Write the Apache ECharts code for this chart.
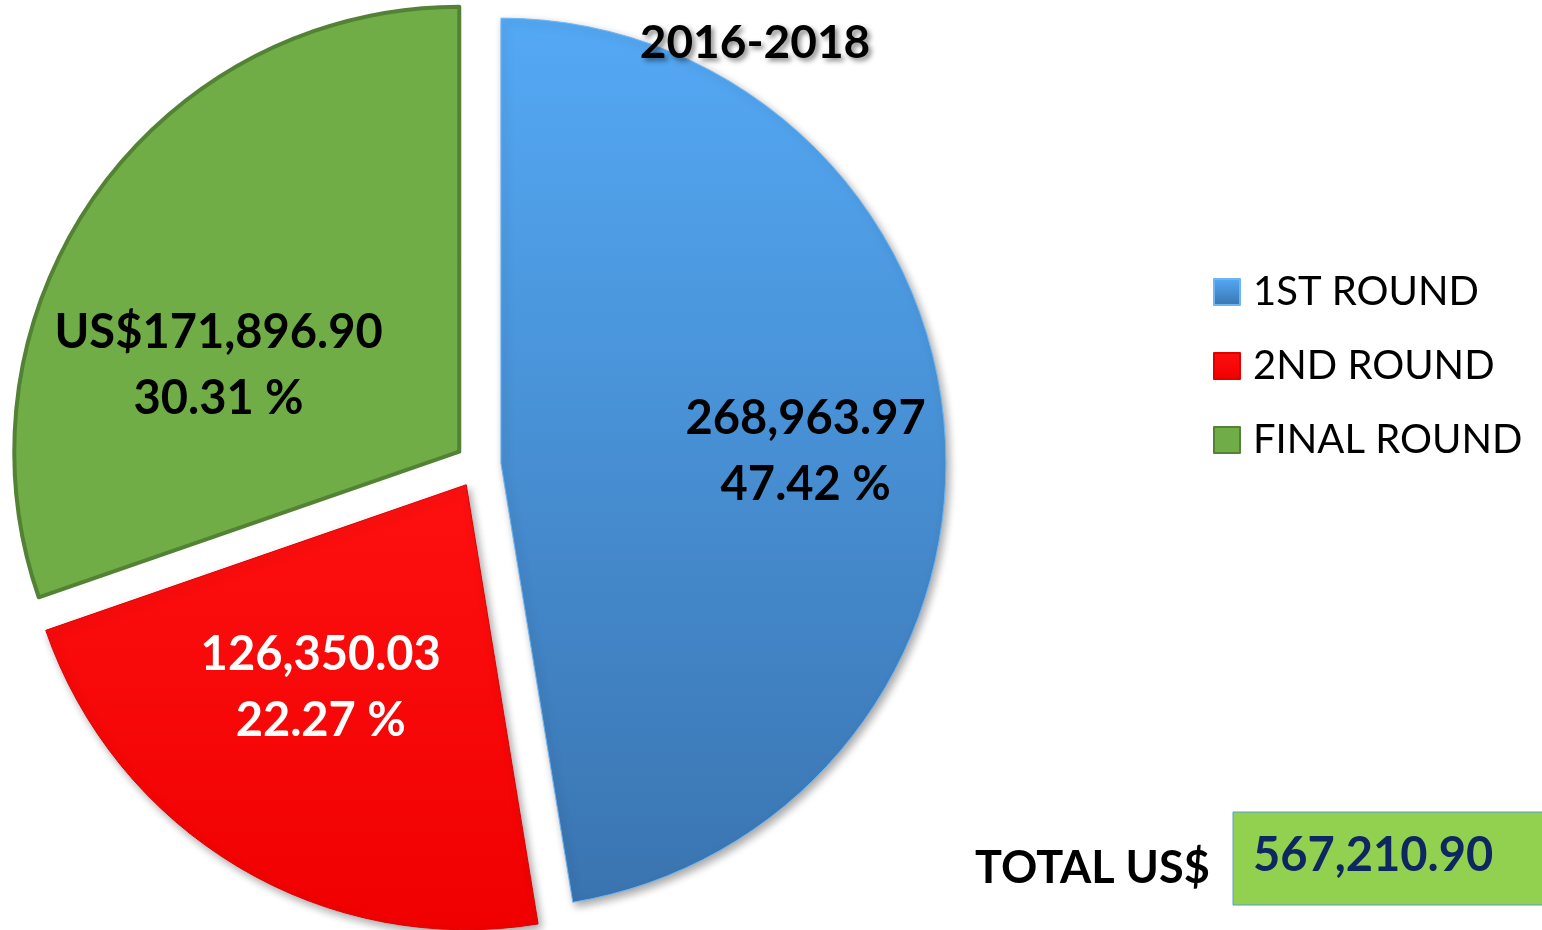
<!DOCTYPE html>
<html>
<head>
<meta charset="utf-8">
<script src="https://cdn.jsdelivr.net/npm/echarts@6/dist/echarts.min.js"></script>
<style>
  html, body { margin: 0; padding: 0; background: #fff; }
  #main { width: 1542px; height: 930px; }
</style>
</head>
<body>
<div id="main"></div>
<script>
// data
var rounds = ['1ST ROUND', '2ND ROUND', 'FINAL ROUND'];
var amounts = [268963.97, 126350.03, 171896.90];
var percentLabels = ['47.42', '22.27', '30.31'];
var prefixes = ['', '', 'US$'];
var periodTitle = '2016-2018';

function money(v) {
  return v.toLocaleString('en-US', { minimumFractionDigits: 2, maximumFractionDigits: 2 });
}

var total = amounts.reduce(function (a, b) { return a + b; }, 0);

// look of each slice
var sliceStyles = [
  {
    color: new echarts.graphic.LinearGradient(0, 0, 0, 1, [
      { offset: 0, color: '#54A9F5' },
      { offset: 1, color: '#3A74B0' }
    ]),
    borderColor: '#6CB6F4', borderWidth: 1,
    shadowBlur: 8, shadowColor: 'rgba(0,0,0,0.35)', shadowOffsetX: 3, shadowOffsetY: 4
  },
  {
    color: new echarts.graphic.LinearGradient(0, 0, 0, 1, [
      { offset: 0, color: '#FF1010' },
      { offset: 1, color: '#F00000' }
    ]),
    borderColor: '#E00000', borderWidth: 1,
    shadowBlur: 8, shadowColor: 'rgba(0,0,0,0.35)', shadowOffsetX: 3, shadowOffsetY: 4
  },
  { color: '#70AD47', borderColor: '#548235', borderWidth: 4 }
];
var labelColors = ['#000', '#fff', '#000'];
// nudge of the inside labels, in px
var labelShift = [[80, 7], [-30, 9], [-57, 45]];

var myChart = echarts.init(document.getElementById('main'));

var option = {
  animation: false,
  title: {
    text: periodTitle,
    left: 750,
    textAlign: 'center',
    top: 15,
    textStyle: {
      fontFamily: 'Lato', fontWeight: 'bold', fontSize: 46, color: '#000',
      textShadowColor: 'rgba(0,0,0,0.45)', textShadowBlur: 5, textShadowOffsetX: 3, textShadowOffsetY: 3
    }
  },
  legend: {
    orient: 'vertical',
    left: 1208,
    top: 267,
    itemWidth: 26,
    itemHeight: 26,
    itemGap: 34,
    icon: 'rect',
    selectedMode: false,
    textStyle: { fontFamily: 'Lato', fontSize: 40, color: '#000', lineHeight: 40, padding: [0, 0, 0, 8] },
    data: rounds
  },
  graphic: [
    {
      type: 'text',
      left: 975,
      top: 846,
      style: { text: 'TOTAL US$', font: 'bold 45px Lato', fill: '#000' }
    },
    {
      type: 'rect',
      shape: { x: 1233, y: 812, width: 320, height: 93 },
      style: { fill: '#92D050', stroke: '#5B9BD5', lineWidth: 1 }
    },
    {
      type: 'text',
      left: 1253,
      top: 832,
      style: { text: money(total), font: 'bold 47px Lato', fill: '#0E2761' }
    }
  ],
  series: [
    {
      type: 'pie',
      center: [478, 465],
      radius: [0, 445],
      startAngle: 90,
      clockwise: true,
      selectedMode: 'multiple',
      selectedOffset: 23,
      emphasis: { disabled: true },
      label: {
        show: true,
        position: 'inside',
        fontFamily: 'Lato',
        fontWeight: 'bold',
        fontSize: 47,
        lineHeight: 66,
        align: 'center'
      },
      labelLine: { show: false },
      labelLayout: function (params) {
        var s = labelShift[params.dataIndex];
        return { dx: s[0], dy: s[1] };
      },
      data: rounds.map(function (name, i) {
        return {
          name: name,
          value: amounts[i],
          selected: true,
          itemStyle: sliceStyles[i],
          label: {
            color: labelColors[i],
            formatter: function (p) {
              return prefixes[p.dataIndex] + money(p.value) + '\n' + percentLabels[p.dataIndex] + ' %';
            }
          }
        };
      })
    }
  ]
};

myChart.setOption(option);
</script>
</body>
</html>
